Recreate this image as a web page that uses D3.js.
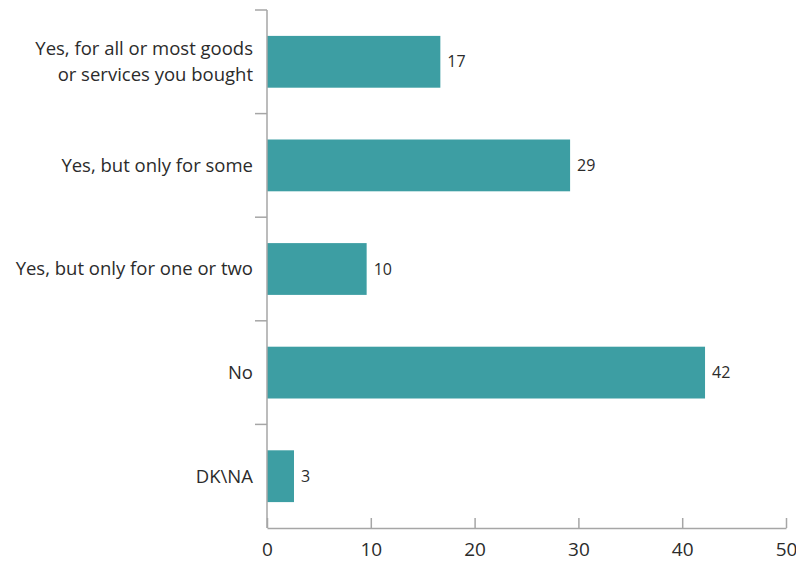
<!DOCTYPE html>
<html>
<head>
<meta charset="utf-8">
<script src="https://cdn.jsdelivr.net/npm/d3@7"></script>
<style>
  html, body { margin: 0; padding: 0; background: #fff; }
  svg text { font-family: "Open Sans", "Noto Sans", sans-serif; fill: #2b2b2b; }
</style>
</head>
<body>
<svg id="chart" width="796" height="561"></svg>
<script>
// Answers to the question, top to bottom
const categories = [
  ["Yes, for all or most goods", "or services you bought"],
  ["Yes, but only for some"],
  ["Yes, but only for one or two"],
  ["No"],
  ["DK\\NA"]
];
// Share of respondents (%)
const values = [16.7, 29.2, 9.6, 42.2, 2.6];
const xTicks = [0, 10, 20, 30, 40, 50];

const margin = { top: 10, right: 10, bottom: 33, left: 267 };
const width = 796, height = 561;

const svg = d3.select("#chart");

const x = d3.scaleLinear().domain([0, 50]).range([margin.left, 786]);
const y = d3.scaleBand()
  .domain(d3.range(categories.length))
  .range([margin.top, height - margin.bottom])
  .paddingInner(0.5).paddingOuter(0.25);

const axisColor = "#a6a6a6";
const barColor = "#3d9ea3";

// Bars
svg.append("g").selectAll("rect")
  .data(values)
  .join("rect")
  .attr("x", x(0))
  .attr("y", (d, i) => y(i))
  .attr("width", d => x(d) - x(0))
  .attr("height", y.bandwidth())
  .attr("fill", barColor);

// Value labels
svg.append("g").selectAll("text")
  .data(values)
  .join("text")
  .attr("x", d => x(d) + 7)
  .attr("y", (d, i) => y(i) + y.bandwidth() / 2)
  .attr("dy", "0.35em")
  .attr("font-size", 16)
  .text(d => d3.format(".0f")(d));

// Category axis: line plus ticks on band boundaries
const step = y.step();
const boundaries = d3.range(categories.length + 1).map(i => margin.top + i * step);
const yAxis = svg.append("g");
yAxis.append("line")
  .attr("x1", x(0)).attr("x2", x(0))
  .attr("y1", margin.top).attr("y2", height - margin.bottom)
  .attr("stroke", axisColor).attr("stroke-width", 1.5);
yAxis.selectAll("line.tick")
  .data(boundaries.slice(0, -1))
  .join("line")
  .attr("class", "tick")
  .attr("x1", x(0) - 12).attr("x2", x(0))
  .attr("y1", d => d).attr("y2", d => d)
  .attr("stroke", axisColor).attr("stroke-width", 1.5);

// Category labels
const lineH = 26;
yAxis.selectAll("text")
  .data(categories)
  .join("text")
  .attr("text-anchor", "end")
  .attr("font-size", 18.5)
  .attr("transform", (d, i) => `translate(${x(0) - 14},${y(i) + y.bandwidth() / 2})`)
  .each(function (lines) {
    const t = d3.select(this);
    lines.forEach((s, k) => {
      t.append("tspan")
        .attr("x", 0)
        .attr("y", (k - (lines.length - 1) / 2) * lineH)
        .attr("dy", "0.35em")
        .text(s);
    });
  });

// Value axis at the bottom, ticks pointing up
const xAxis = svg.append("g")
  .attr("transform", `translate(0,${height - margin.bottom})`)
  .call(d3.axisBottom(x).tickValues(xTicks).tickSize(-10).tickPadding(15).tickSizeOuter(0));
xAxis.select(".domain").attr("stroke", axisColor).attr("stroke-width", 1.5);
xAxis.selectAll(".tick line").attr("stroke", axisColor).attr("stroke-width", 1.5);
xAxis.selectAll(".tick text")
  .attr("font-size", 19)
  .attr("font-family", "\"Open Sans\", \"Noto Sans\", sans-serif")
  .attr("fill", "#2b2b2b");
</script>
</body>
</html>
